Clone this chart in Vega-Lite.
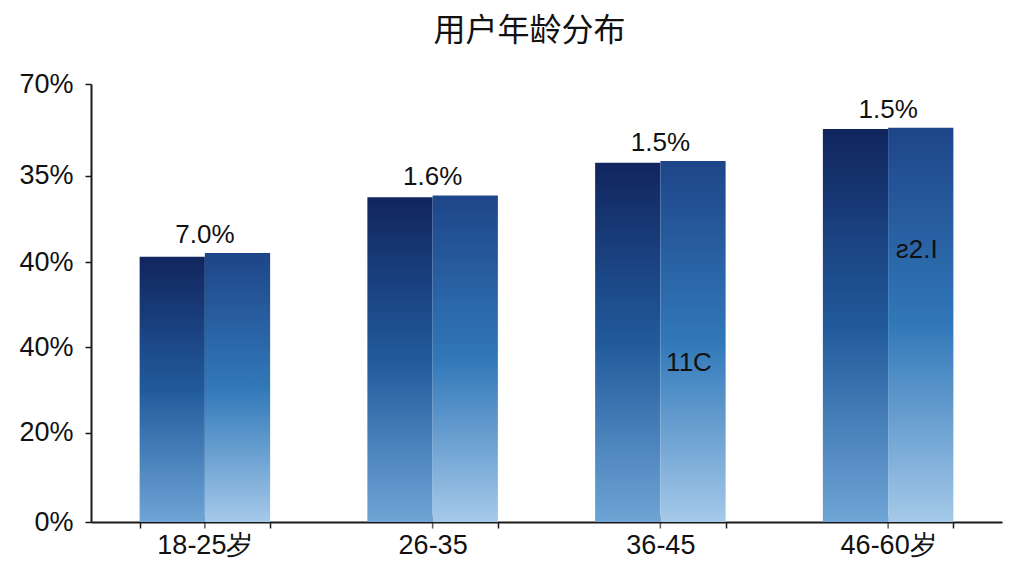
{
  "$schema": "https://vega.github.io/schema/vega-lite/v6.json",
  "width": 911,
  "height": 438,
  "autosize": {"type": "none"},
  "padding": {"left": 91, "top": 84, "right": 22, "bottom": 54},
  "background": "#ffffff",
  "title": {
    "text": "用户年龄分布",
    "font": "Noto Sans CJK SC",
    "fontSize": 32,
    "fontWeight": "normal",
    "color": "#111111",
    "anchor": "middle",
    "frame": "group",
    "dx": -17,
    "offset": 22
  },
  "datasets": {
    "bars": [
      {"age": "18-25岁", "s": "a", "v": 42.4},
      {"age": "18-25岁", "s": "b", "v": 43.0},
      {"age": "26-35", "s": "a", "v": 51.9},
      {"age": "26-35", "s": "b", "v": 52.2},
      {"age": "36-45", "s": "a", "v": 57.4},
      {"age": "36-45", "s": "b", "v": 57.7},
      {"age": "46-60岁", "s": "a", "v": 62.8},
      {"age": "46-60岁", "s": "b", "v": 63.0}
    ],
    "labels": [
      {"age": "18-25岁", "v": 43.0, "t": "7.0%"},
      {"age": "26-35", "v": 52.2, "t": "1.6%"},
      {"age": "36-45", "v": 57.7, "t": "1.5%"},
      {"age": "46-60岁", "v": 63.0, "t": "1.5%"}
    ],
    "notes": [
      {"age": "36-45", "s": "b", "v": 25.4, "t": "11C"},
      {"age": "46-60岁", "s": "b", "v": 43.5, "t": "ƨ2.I"}
    ]
  },
  "encoding": {
    "x": {
      "field": "age",
      "type": "nominal",
      "sort": ["18-25岁", "26-35", "36-45", "46-60岁"],
      "scale": {"paddingInner": 0.427, "paddingOuter": 0.2135},
      "axis": {
        "title": null,
        "labelAngle": 0,
        "tickBand": "extent",
        "labelFont": "Liberation Sans",
        "labelFontSize": 27,
        "labelColor": "#111111",
        "labelPadding": 4,
        "domainColor": "#1a1a1a",
        "domainWidth": 2,
        "tickColor": "#1a1a1a",
        "tickWidth": 1.5,
        "tickSize": 6,
        "grid": false
      }
    },
    "y": {
      "field": "v",
      "type": "quantitative",
      "scale": {"domain": [0, 70], "nice": false},
      "axis": {
        "title": null,
        "values": [0, 14.3, 27.9, 41.5, 55.3, 70],
        "labelExpr": "datum.value < 7 ? '0%' : datum.value < 20 ? '20%' : datum.value < 50 ? '40%' : datum.value < 60 ? '35%' : '70%'",
        "labelFont": "Liberation Sans",
        "labelFontSize": 27,
        "labelColor": "#111111",
        "labelPadding": 12,
        "domainColor": "#1a1a1a",
        "domainWidth": 2,
        "tickColor": "#1a1a1a",
        "tickWidth": 1.5,
        "tickSize": 6,
        "grid": false
      }
    }
  },
  "layer": [
    {
      "data": {"name": "labels"},
      "mark": {"type": "tick", "orient": "vertical", "size": 13, "thickness": 1.5, "color": "#1a1a1a"},
      "encoding": {"y": {"datum": 0}}
    },
    {
      "data": {"name": "bars"},
      "transform": [{"filter": "datum.s == 'a'"}],
      "mark": {
        "type": "bar",
        "color": {
          "gradient": "linear",
          "x1": 0, "y1": 0, "x2": 0, "y2": 1,
          "stops": [
            {"offset": 0, "color": "#11255e"},
            {"offset": 0.5, "color": "#215a9c"},
            {"offset": 1, "color": "#6ea5d6"}
          ]
        }
      },
      "encoding": {
        "xOffset": {"field": "s", "scale": {"domain": ["a", "b"], "paddingInner": 0, "paddingOuter": 0}}
      }
    },
    {
      "data": {"name": "bars"},
      "transform": [{"filter": "datum.s == 'b'"}],
      "mark": {
        "type": "bar",
        "color": {
          "gradient": "linear",
          "x1": 0, "y1": 0, "x2": 0, "y2": 1,
          "stops": [
            {"offset": 0, "color": "#1e4589"},
            {"offset": 0.5, "color": "#3178b9"},
            {"offset": 1, "color": "#a5c9e9"}
          ]
        }
      },
      "encoding": {
        "xOffset": {"field": "s", "scale": {"domain": ["a", "b"], "paddingInner": 0, "paddingOuter": 0}}
      }
    },
    {
      "data": {"name": "labels"},
      "mark": {"type": "text", "font": "Liberation Sans", "fontSize": 26, "color": "#111111", "baseline": "alphabetic", "dy": -10},
      "encoding": {"text": {"field": "t"}}
    },
    {
      "data": {"name": "notes"},
      "mark": {"type": "text", "font": "Liberation Sans", "fontSize": 26, "color": "#111111", "baseline": "middle", "dx": -4},
      "encoding": {
        "xOffset": {"field": "s", "scale": {"domain": ["a", "b"], "paddingInner": 0, "paddingOuter": 0}},
        "text": {"field": "t"}
      }
    }
  ],
  "config": {
    "view": {"stroke": null}
  }
}
